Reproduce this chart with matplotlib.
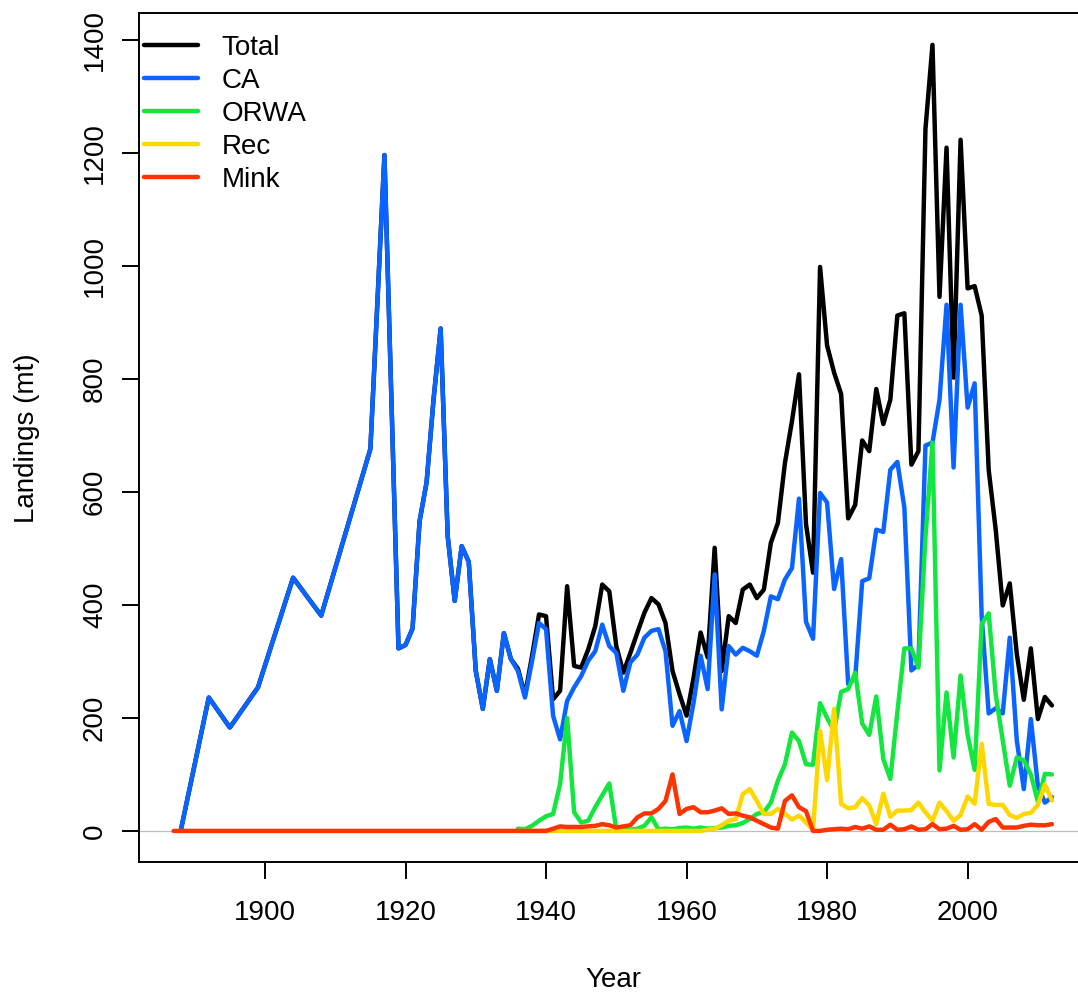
import numpy as np
import matplotlib
matplotlib.use("Agg")
import matplotlib.pyplot as plt

plt.rcParams['font.family'] = ['Liberation Sans', 'DejaVu Sans']

# ---- data (landings, mt) ----
ca_years = [1888, 1892, 1895, 1899, 1904, 1908, 1915, 1917] + list(range(1919, 2013))
ca = [0, 236, 183, 254, 448, 381, 676, 1196,
      323, 329, 358, 548, 617, 765, 889, 522, 407, 504,      # 1919-1928
      476, 283, 216, 304, 248, 350, 304, 283, 236, 300,      # 1929-1938
      368, 357, 204, 162, 230, 254, 274, 301, 318, 365,      # 1939-1948
      327, 315, 248, 298, 312, 342, 354, 357, 318, 186,      # 1949-1958
      212, 159, 227, 310, 251, 454, 215, 327, 312, 324,      # 1959-1968
      318, 310, 354, 415, 410, 445, 465, 588, 370, 340,      # 1969-1978
      598, 581, 428, 481, 260, 270, 442, 447, 533, 529,      # 1979-1988
      639, 653, 572, 284, 294, 682, 687, 763, 931, 643,      # 1989-1998
      931, 749, 792, 380, 208, 217, 208, 342, 160, 74,       # 1999-2008
      198, 80, 50, 60]                                       # 2009-2012

late_years = list(range(1936, 2013))
total_late = [287, 240, 309, 383, 380, 233, 248, 433, 292, 289,   # 1936-1945
              321, 362, 436, 424, 327, 280, 315, 351, 386, 412,   # 1946-1955
              401, 368, 283, 242, 204, 271, 351, 307, 501, 283,   # 1956-1965
              380, 368, 427, 436, 412, 427, 510, 545, 651, 725,   # 1966-1975
              808, 543, 457, 998, 859, 811, 773, 553, 577, 691,   # 1976-1985
              672, 782, 720, 763, 912, 916, 648, 672, 1242, 1391, # 1986-1995
              945, 1209, 802, 1223, 960, 964, 912, 639, 533, 399, # 1996-2005
              438, 313, 232, 323, 198, 237, 222]                  # 2006-2012

orwa = [4, 3, 9, 18, 26, 30, 83, 200, 33, 15,           # 1936-1945
        18, 42, 63, 84, 3, 2, 2, 4, 9, 24,              # 1946-1955
        3, 4, 3, 5, 6, 4, 6, 4, 5, 6,                   # 1956-1965
        9, 10, 14, 21, 30, 33, 50, 89, 118, 174,        # 1966-1975
        159, 118, 117, 226, 200, 177, 246, 251, 280, 190,  # 1976-1985
        170, 238, 127, 92, 210, 323, 323, 289, 520, 687,   # 1986-1995
        107, 245, 130, 275, 170, 108, 366, 385, 241, 160,  # 1996-2005
        80, 130, 125, 100, 52, 101, 100]                   # 2006-2012

rec_years = [1936, 1962] + list(range(1963, 2013))
rec = [0, 0, 2, 4, 10,                                   # 1936..1962 flat, 1963-1965
       18, 21, 65, 74, 53, 30, 30, 39, 30, 20,           # 1966-1975
       27, 15, 2, 177, 90, 216, 48, 40, 42, 58,          # 1976-1985
       45, 12, 66, 25, 36, 36, 37, 50, 33, 18,           # 1986-1995
       50, 35, 18, 28, 61, 48, 154, 48, 46, 46,          # 1996-2005
       28, 23, 30, 32, 46, 82, 54]                       # 2006-2012

mink_years = [1887, 1940] + list(range(1941, 2013))
mink = [0, 0, 4, 8, 7, 7, 7,                            # 1887..1940 flat, 1941-1945
        8, 9, 12, 10, 6, 8, 10, 24, 31, 31,             # 1946-1955
        39, 53, 100, 30, 39, 42, 33, 33, 36, 40,        # 1956-1965
        30, 31, 27, 24, 18, 12, 6, 4, 53, 63,           # 1966-1975
        42, 35, 0, 0, 2, 3, 4, 3, 7, 4,                 # 1976-1985
        8, 2, 2, 11, 2, 3, 8, 2, 3, 12,                 # 1986-1995
        3, 4, 9, 2, 3, 12, 2, 16, 21, 6,                # 1996-2005
        6, 6, 9, 11, 10, 10, 12]                        # 2006-2012

# total before 1936 is just the CA catch
early = np.array(ca_years) < 1936
total_years = list(np.array(ca_years)[early]) + late_years
total = list(np.array(ca)[early]) + total_late

series = [("Total", total_years, total, "black"),
          ("CA", ca_years, ca, "#0A64FF"),
          ("ORWA", late_years, orwa, "#14E640"),
          ("Rec", rec_years, rec, "#FFD700"),
          ("Mink", mink_years, mink, "#FF3300")]

fig = plt.figure(figsize=(10.78, 9.92), dpi=100)
ax = fig.add_axes([0.1285, 0.1307, 0.8799, 0.8558])

ax.axhline(0, color="#BEBEBE", lw=0.9, zorder=1)
for name, xs, ys, col in series:
    ax.plot(xs, ys, color=col, lw=3.2, label=name,
            solid_joinstyle="round", solid_capstyle="round", zorder=2)

ax.set_xlim(1882, 2017)
ax.set_ylim(-55.6, 1446.6)
ax.set_xticks(range(1900, 2001, 20))
ax.set_yticks(range(0, 1401, 200))

for s in ax.spines.values():
    s.set_linewidth(1.4)
ax.tick_params(axis="both", length=12, width=1.4, labelsize=20)
ax.tick_params(axis="x", pad=15)
ax.tick_params(axis="y", pad=10)
plt.setp(ax.get_yticklabels(), rotation=90, va="center")

fig.text(613 / 1078, 1 - 980 / 992, "Year", fontsize=20, ha="center", va="center")
fig.text(27 / 1078, 1 - 438 / 992, "Landings (mt)", fontsize=20,
         ha="center", va="center", rotation=90)

leg = ax.legend(loc="upper left", bbox_to_anchor=(0.0058, 0.9745), frameon=False,
                fontsize=20, borderpad=0, borderaxespad=0, handlelength=1.95,
                handletextpad=0.85, labelspacing=0.25)

fig.savefig("out.png", dpi=100)
